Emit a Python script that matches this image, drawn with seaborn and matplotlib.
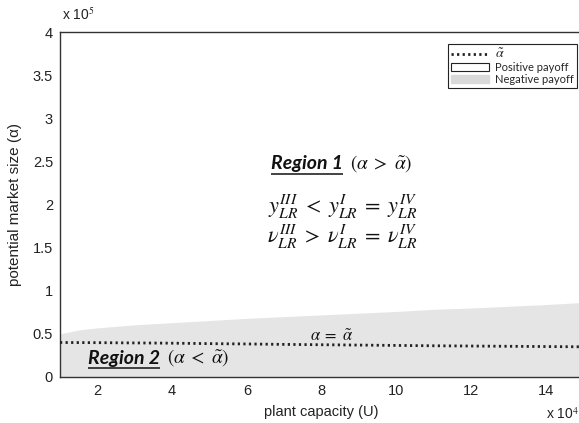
import numpy as np
import pandas as pd
import matplotlib
matplotlib.use("Agg")
import matplotlib.pyplot as plt
from matplotlib.patches import Patch
from matplotlib.lines import Line2D
from matplotlib.ticker import FuncFormatter, FixedLocator
import seaborn as sns

# ---- data (x in units of 1e4, y in units of 1e5) ----
plant_capacity = [1.0, 1.5, 2.0, 3.0, 4.0, 5.0, 6.0, 7.0, 8.0, 9.0, 10.0, 11.0, 12.0, 13.0, 14.0, 15.0]
negative_upper = [0.50, 0.545, 0.57, 0.605, 0.63, 0.655, 0.68, 0.70, 0.72, 0.74, 0.76, 0.785, 0.80, 0.82, 0.84, 0.865]
alpha_tilde = [0.400, 0.399, 0.398, 0.395, 0.392, 0.387, 0.383, 0.378, 0.374, 0.370, 0.366, 0.362, 0.359, 0.356, 0.353, 0.350]
x_ticks = [2, 4, 6, 8, 10, 12, 14]
y_ticks = [0, 0.5, 1, 1.5, 2, 2.5, 3, 3.5, 4]
legend_labels = [r"$\tilde{\alpha}$", "Positive payoff", "Negative payoff"]

df = pd.DataFrame({"U": plant_capacity, "upper": negative_upper, "alpha_tilde": alpha_tilde})

sns.set_style("white")
plt.rcParams["font.family"] = ["Liberation Sans", "DejaVu Sans"]
plt.rcParams["mathtext.fontset"] = "stix"

fig = plt.figure(figsize=(5.79, 4.23), dpi=100)
ax = fig.add_axes([60 / 579, 1 - 377 / 423, 523.5 / 579, 345 / 423])

ax.fill_between(df["U"], 0, df["upper"], color="#e5e5e5", linewidth=0, zorder=1)
sns.lineplot(data=df, x="U", y="alpha_tilde", ax=ax, color="#222222",
             linestyle=(0, (0.8, 1.2)), linewidth=2.0, zorder=3)

ax.set_xlim(1, 15)
ax.set_ylim(0, 4)
ax.xaxis.set_major_locator(FixedLocator(x_ticks))
ax.yaxis.set_major_locator(FixedLocator(y_ticks))
ax.yaxis.set_major_formatter(FuncFormatter(lambda v, p: f"{v:g}"))
ax.tick_params(axis="both", length=0, labelsize=10.5, colors="#222222")
ax.tick_params(axis="x", pad=5)
ax.tick_params(axis="y", pad=5)
for s in ax.spines.values():
    s.set_color("#333333")
    s.set_linewidth(1.0)

ax.set_xlabel("plant capacity (U)", fontsize=10.5, color="#222222", labelpad=5)
ax.set_ylabel("potential market size (α)", fontsize=11, color="#222222", labelpad=8)

fig.text(62 / 579, 1 - 20 / 423, r"x 10$^{5}$", fontsize=10, color="#222222", va="baseline")
fig.text(546 / 579, 1 - 419 / 423, r"x 10$^{4}$", fontsize=10, color="#222222", va="baseline")

fig.canvas.draw()
renderer = fig.canvas.get_renderer()
inv = ax.transData.inverted()


def region_label(x0, y0, word, cond):
    t = ax.text(x0, y0, word, fontsize=14, fontweight="bold", fontstyle="italic",
                family=["Lato", "DejaVu Sans"], va="center", ha="left", color="#111111", zorder=4)
    bb = t.get_window_extent(renderer=renderer)
    (x1, yb), = inv.transform([(bb.x1, bb.y0)])
    (xa, _), = inv.transform([(bb.x0, bb.y0)])
    ax.plot([xa, x1], [yb - 0.02, yb - 0.02], color="#111111", linewidth=1.1, zorder=4,
            solid_capstyle="butt")
    (xg, _), = inv.transform([(bb.x1 + 7, bb.y0)])
    ax.text(xg, y0, cond, fontsize=14, va="center", ha="left", color="#111111", zorder=4)


region_label(1.75, 0.22, "Region 2", r"$(\alpha\;<\;\tilde{\alpha})$")
region_label(6.65, 2.47, "Region 1", r"$(\alpha\;>\;\tilde{\alpha})$")

ax.text(8.55, 1.97, r"$y_{LR}^{III}\;<\;y_{LR}^{I}\;=\;y_{LR}^{IV}$", fontsize=16,
        ha="center", va="center", color="#111111")
ax.text(8.55, 1.63, r"$\nu_{LR}^{III}\;>\;\nu_{LR}^{I}\;=\;\nu_{LR}^{IV}$", fontsize=16,
        ha="center", va="center", color="#111111")

ax.text(8.25, 0.475, r"$\alpha\;=\;\tilde{\alpha}$", fontsize=12, ha="center", va="center",
        color="#111111", zorder=4)

handles = [
    Line2D([0], [0], color="#222222", linestyle=(0, (0.8, 1.2)), linewidth=2.0),
    Patch(facecolor="white", edgecolor="#222222", linewidth=0.8),
    Patch(facecolor="#d9d9d9", edgecolor="#d9d9d9"),
]
leg = fig.legend(handles, legend_labels, loc="upper right",
                 bbox_to_anchor=(577 / 579, 1 - 44 / 423),
                 prop={"family": ["Lato", "DejaVu Sans"], "size": 8},
                 frameon=True, fancybox=False, edgecolor="#222222", framealpha=1,
                 handlelength=3.4, handleheight=0.75, borderpad=0.25, labelspacing=0.12,
                 handletextpad=0.6, borderaxespad=0)
leg.get_frame().set_linewidth(0.8)
leg.get_texts()[0].set_fontsize(10)

fig.savefig("out.png", dpi=100)
